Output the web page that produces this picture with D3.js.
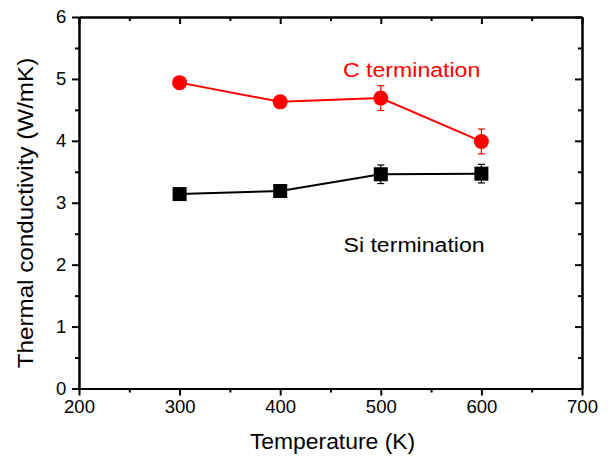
<!DOCTYPE html>
<html>
<head>
<meta charset="utf-8">
<script src="https://cdn.jsdelivr.net/npm/d3@7"></script>
<style>
  body { margin: 0; background: #fff; }
  svg text { font-family: "Liberation Sans", Arial, sans-serif; }
</style>
</head>
<body>
<div id="chart"></div>
<script>
// Data
const temps = [300, 400, 500, 600];
const cTerm = [4.94, 4.63, 4.69, 3.99];
const cErr = [0, 0, 0.2, 0.2];
const siTerm = [3.14, 3.19, 3.46, 3.47];
const siErr = [0, 0, 0.15, 0.15];
const xTicks = [200, 300, 400, 500, 600, 700];
const xMinor = [250, 350, 450, 550, 650];
const yTicks = [0, 1, 2, 3, 4, 5, 6];
const yMinor = [0.5, 1.5, 2.5, 3.5, 4.5, 5.5];

// Constants for the frame
const FRAME_WIDTH = 610;
const FRAME_HEIGHT = 461;
const MARGINS = {left: 79, right: 28, top: 17, bottom: 72.5};
const VIS_WIDTH = FRAME_WIDTH - MARGINS.left - MARGINS.right;
const VIS_HEIGHT = FRAME_HEIGHT - MARGINS.top - MARGINS.bottom;

const FRAME = d3.select("#chart")
                .append("svg")
                  .attr("width", FRAME_WIDTH)
                  .attr("height", FRAME_HEIGHT);

const X_SCALE = d3.scaleLinear().domain([200, 700]).range([0, VIS_WIDTH]);
const Y_SCALE = d3.scaleLinear().domain([0, 6]).range([VIS_HEIGHT, 0]);

const plot = FRAME.append("g")
                  .attr("transform", "translate(" + MARGINS.left + "," + MARGINS.top + ")");

// axis helper: style the group
function styleAxis(g, labels) {
  g.select(".domain").attr("stroke", "#000").attr("stroke-width", 2);
  g.selectAll(".tick line").attr("stroke", "#000").attr("stroke-width", 2);
  if (!labels) g.selectAll(".tick text").remove();
}

// minor axes first
plot.append("g")
    .attr("transform", "translate(0," + VIS_HEIGHT + ")")
    .call(d3.axisBottom(X_SCALE).tickValues(xMinor).tickSize(4).tickSizeOuter(0).tickFormat(""))
    .call(g => styleAxis(g, false));
plot.append("g")
    .call(d3.axisTop(X_SCALE).tickValues(xMinor).tickSize(-4).tickSizeOuter(0).tickFormat(""))
    .call(g => styleAxis(g, false));
plot.append("g")
    .call(d3.axisLeft(Y_SCALE).tickValues(yMinor).tickSize(4).tickSizeOuter(0).tickFormat(""))
    .call(g => styleAxis(g, false));
plot.append("g")
    .attr("transform", "translate(" + VIS_WIDTH + ",0)")
    .call(d3.axisRight(Y_SCALE).tickValues(yMinor).tickSize(-4).tickSizeOuter(0).tickFormat(""))
    .call(g => styleAxis(g, false));

// major axes
const xAxis = plot.append("g")
    .attr("transform", "translate(0," + VIS_HEIGHT + ")")
    .call(d3.axisBottom(X_SCALE).tickValues(xTicks).tickSize(7).tickSizeOuter(0).tickPadding(5)
            .tickFormat(d3.format("d")))
    .call(g => styleAxis(g, true));
xAxis.selectAll(".tick text")
    .attr("font-size", "17.5px")
    .attr("fill", "#000")
    .attr("font-family", "Liberation Sans, Arial, sans-serif")
    .attr("transform", "scale(1.06,1)");

const yAxis = plot.append("g")
    .call(d3.axisLeft(Y_SCALE).tickValues(yTicks).tickSize(7).tickSizeOuter(0).tickPadding(5)
            .tickFormat(d3.format("d")))
    .call(g => styleAxis(g, true));
yAxis.selectAll(".tick text")
    .attr("font-size", "17.5px")
    .attr("fill", "#000")
    .attr("font-family", "Liberation Sans, Arial, sans-serif")
    .attr("transform", "scale(1.06,1)");

plot.append("g")
    .call(d3.axisTop(X_SCALE).tickValues(xTicks).tickSize(-7).tickSizeOuter(0))
    .call(g => styleAxis(g, false));
plot.append("g")
    .attr("transform", "translate(" + VIS_WIDTH + ",0)")
    .call(d3.axisRight(Y_SCALE).tickValues(yTicks).tickSize(-7).tickSizeOuter(0))
    .call(g => styleAxis(g, false));

// series
const series = [
  {vals: siTerm, err: siErr, color: "#000000", shape: "square"},
  {vals: cTerm, err: cErr, color: "#ff0000", shape: "circle"}
];

series.forEach((s) => {
  const pts = temps.map((t, i) => ({x: t, y: s.vals[i], e: s.err[i]}));

  plot.append("path")
      .datum(pts)
      .attr("fill", "none")
      .attr("stroke", s.color)
      .attr("stroke-width", 2)
      .attr("d", d3.line().x(d => X_SCALE(d.x)).y(d => Y_SCALE(d.y)));

  // error bars
  const eb = plot.selectAll(null)
      .data(pts.filter(d => d.e > 0))
      .enter()
      .append("g")
        .attr("stroke", s.color)
        .attr("stroke-width", 1.2);
  eb.append("line")
      .attr("x1", d => X_SCALE(d.x)).attr("x2", d => X_SCALE(d.x))
      .attr("y1", d => Y_SCALE(d.y + d.e)).attr("y2", d => Y_SCALE(d.y - d.e));
  eb.append("line")
      .attr("x1", d => X_SCALE(d.x) - 3.5).attr("x2", d => X_SCALE(d.x) + 3.5)
      .attr("y1", d => Y_SCALE(d.y + d.e)).attr("y2", d => Y_SCALE(d.y + d.e));
  eb.append("line")
      .attr("x1", d => X_SCALE(d.x) - 3.5).attr("x2", d => X_SCALE(d.x) + 3.5)
      .attr("y1", d => Y_SCALE(d.y - d.e)).attr("y2", d => Y_SCALE(d.y - d.e));

  // markers
  if (s.shape === "circle") {
    plot.selectAll(null)
        .data(pts)
        .enter()
        .append("circle")
          .attr("cx", d => X_SCALE(d.x))
          .attr("cy", d => Y_SCALE(d.y))
          .attr("r", 7.5)
          .attr("fill", s.color);
  } else {
    plot.selectAll(null)
        .data(pts)
        .enter()
        .append("rect")
          .attr("x", d => X_SCALE(d.x) - 7)
          .attr("y", d => Y_SCALE(d.y) - 7)
          .attr("width", 14)
          .attr("height", 14)
          .attr("fill", s.color);
  }
});

// series labels
FRAME.append("text")
    .attr("transform", "translate(343,76.5) scale(1.1,1)")
    .attr("font-size", "21px")
    .attr("fill", "#ff0000")
    .text("C termination");

FRAME.append("text")
    .attr("transform", "translate(343.5,251.5) scale(1.1,1)")
    .attr("font-size", "21px")
    .attr("fill", "#000")
    .text("Si termination");

// axis titles
FRAME.append("text")
    .attr("transform", "translate(332.5,449.3) scale(1.04,1)")
    .attr("text-anchor", "middle")
    .attr("font-size", "22px")
    .attr("fill", "#000")
    .text("Temperature (K)");

FRAME.append("text")
    .attr("transform", "translate(32.5,213) rotate(-90) scale(1.1,1)")
    .attr("text-anchor", "middle")
    .attr("font-size", "22px")
    .attr("fill", "#000")
    .text("Thermal conductivity (W/mK)");
</script>
</body>
</html>
